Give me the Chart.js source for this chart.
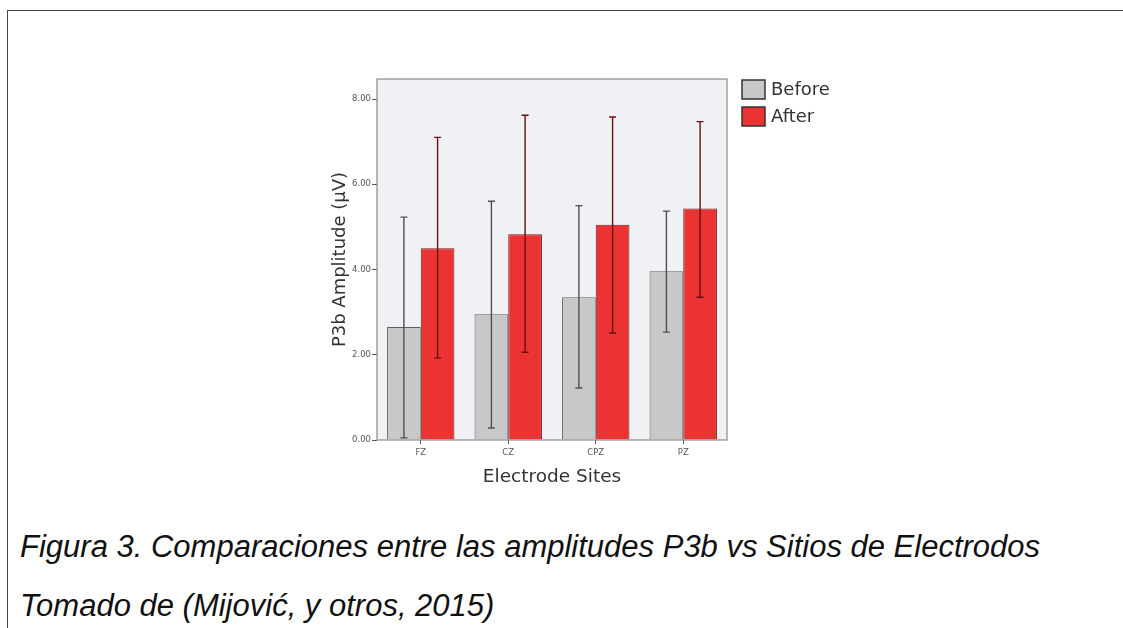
<!DOCTYPE html>
<html>
<head>
<meta charset="utf-8">
<script src="https://cdn.jsdelivr.net/npm/chart.js@4"></script>
<style>
    html, body { margin: 0; padding: 0; background: #fff; }
    body { width: 1123px; height: 628px; position: relative; overflow: hidden; }
    .frame { position: absolute; left: 7px; top: 10px; width: 1130px; height: 640px; border-left: 1px solid #444; border-top: 1px solid #444; }
    #chartWrap { position: absolute; left: 0; top: 0; width: 1123px; height: 500px; }
    .caption { position: absolute; left: 20px; font-family: "Liberation Sans", Arial, sans-serif; font-style: italic; font-size: 31px; line-height: 31px; color: #111; white-space: nowrap; }
</style>
</head>
<body>
<div class="frame"></div>
<div id="chartWrap"><canvas id="chart"></canvas></div>
<div class="caption" style="top: 531px;">Figura 3. Comparaciones entre las amplitudes P3b vs Sitios de Electrodos</div>
<div class="caption" style="top: 590px;">Tomado de (Mijović, y otros, 2015)</div>

<script>
const sites = ['FZ', 'CZ', 'CPZ', 'PZ'];
const seriesNames = ['Before', 'After'];

const beforeMean = [2.65, 2.95, 3.35, 3.96];
const beforeLow = [0.05, 0.28, 1.22, 2.53];
const beforeHigh = [5.23, 5.60, 5.50, 5.37];

const afterMean = [4.50, 4.83, 5.05, 5.43];
const afterLow = [1.92, 2.06, 2.51, 3.35];
const afterHigh = [7.10, 7.62, 7.58, 7.47];

const yTicks = [0, 2, 4, 6, 8];

const colors = {
    before: '#c8c8c8',
    beforeBorder: '#5e5e5e',
    after: '#ec3333',
    afterBorder: '#6e2020',
    plotBg: '#eff1f4'
};

// plot background and frame
const plotFrame = {
    id: 'plotFrame',
    beforeDatasetsDraw(chart) {
        const { ctx, chartArea: a } = chart;
        ctx.save();
        ctx.fillStyle = colors.plotBg;
        ctx.fillRect(a.left, a.top, a.right - a.left, a.bottom - a.top);
        ctx.restore();
    },
    afterDraw(chart) {
        const { ctx, chartArea: a } = chart;
        ctx.save();
        ctx.strokeStyle = '#8a8a8a';
        ctx.lineWidth = 1.2;
        ctx.strokeRect(a.left, a.top, a.right - a.left, a.bottom - a.top);
        ctx.restore();
    }
};

// error bars drawn from the low / high arrays through the y scale
const errorBars = {
    id: 'errorBars',
    afterDatasetsDraw(chart) {
        const { ctx } = chart;
        const yScale = chart.scales.y;
        chart.data.datasets.forEach((ds, i) => {
            const meta = chart.getDatasetMeta(i);
            ctx.save();
            ctx.strokeStyle = ds.errorColor;
            ctx.lineWidth = 1.4;
            meta.data.forEach((bar, j) => {
                const yLo = yScale.getPixelForValue(ds.errLow[j]);
                const yHi = yScale.getPixelForValue(ds.errHigh[j]);
                ctx.beginPath();
                ctx.moveTo(bar.x, yLo);
                ctx.lineTo(bar.x, yHi);
                ctx.moveTo(bar.x - 3.5, yLo);
                ctx.lineTo(bar.x + 3.5, yLo);
                ctx.moveTo(bar.x - 3.5, yHi);
                ctx.lineTo(bar.x + 3.5, yHi);
                ctx.stroke();
            });
            ctx.restore();
        });
    }
};

// legend at the right of the plot
const sideLegend = {
    id: 'sideLegend',
    afterDraw(chart) {
        const { ctx, chartArea: a } = chart;
        ctx.save();
        ctx.font = '18px "DejaVu Sans", sans-serif';
        ctx.textBaseline = 'middle';
        chart.data.datasets.forEach((ds, i) => {
            const x = a.right + 15;
            const y = a.top + 1 + i * 27;
            ctx.fillStyle = ds.backgroundColor;
            ctx.fillRect(x, y, 23, 19);
            ctx.strokeStyle = '#333';
            ctx.lineWidth = 1.5;
            ctx.strokeRect(x, y, 23, 19);
            ctx.fillStyle = '#333';
            ctx.fillText(ds.label, x + 29, y + 10);
        });
        ctx.restore();
    }
};

new Chart(document.getElementById('chart'), {
    type: 'bar',
    data: {
        labels: sites,
        datasets: [
            {
                label: seriesNames[0],
                data: beforeMean,
                errLow: beforeLow,
                errHigh: beforeHigh,
                errorColor: '#505050',
                backgroundColor: colors.before,
                borderColor: colors.beforeBorder,
                borderWidth: 1
            },
            {
                label: seriesNames[1],
                data: afterMean,
                errLow: afterLow,
                errHigh: afterHigh,
                errorColor: '#6a1010',
                backgroundColor: colors.after,
                borderColor: colors.afterBorder,
                borderWidth: 1
            }
        ]
    },
    options: {
        responsive: true,
        maintainAspectRatio: false,
        animation: false,
        categoryPercentage: 0.77,
        barPercentage: 1,
        layout: {
            padding: { left: 326, right: 396, top: 79, bottom: 8 }
        },
        plugins: {
            legend: { display: false },
            tooltip: { enabled: false }
        },
        scales: {
            x: {
                grid: { offset: false, drawOnChartArea: false, drawTicks: true, tickLength: 4, color: '#555' },
                border: { display: false },
                ticks: { font: { size: 8.5, family: 'DejaVu Sans' }, color: '#555', padding: 4 },
                title: { display: true, text: 'Electrode Sites', font: { size: 18.5, family: 'DejaVu Sans' }, color: '#333', padding: { top: 4 } },
                afterFit(scale) { scale.height = 52; }
            },
            y: {
                min: 0,
                max: 8.47,
                afterBuildTicks(axis) { axis.ticks = yTicks.map(v => ({ value: v })); },
                grid: { drawOnChartArea: false, drawTicks: true, tickLength: 5, color: '#555' },
                border: { display: false },
                ticks: { font: { size: 8.5, family: 'DejaVu Sans' }, color: '#555', padding: 1, callback: v => v.toFixed(2) },
                title: { display: true, text: 'P3b Amplitude (µV)', font: { size: 18, family: 'DejaVu Sans' }, color: '#333' },
                afterFit(scale) { scale.width = 51; }
            }
        }
    },
    plugins: [plotFrame, errorBars, sideLegend]
});
</script>
</body>
</html>
